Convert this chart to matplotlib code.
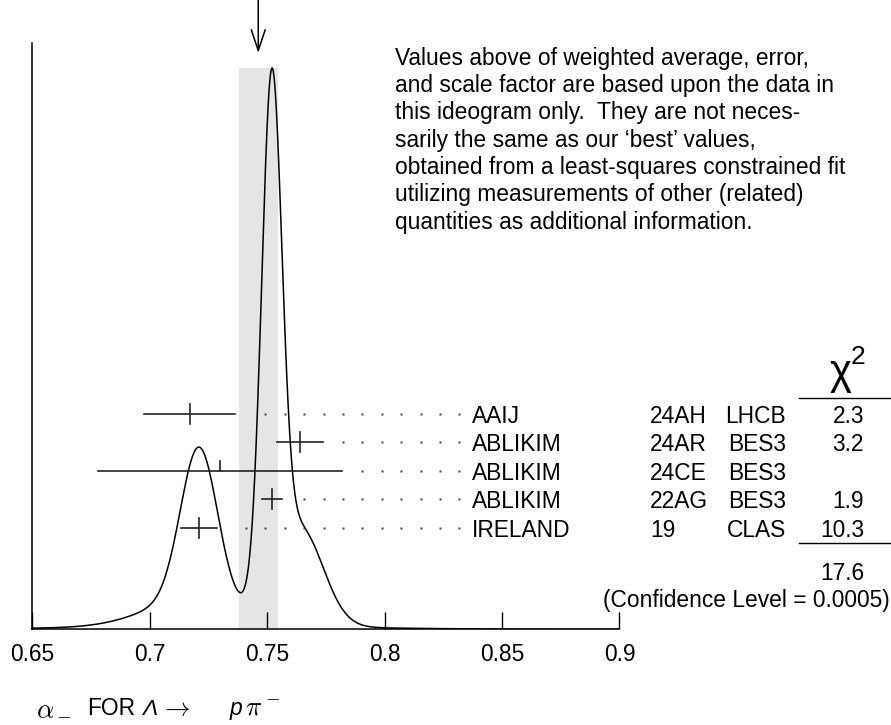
import numpy as np
import matplotlib.pyplot as plt
from matplotlib.lines import Line2D

plt.rcParams['font.family'] = ['Liberation Sans', 'DejaVu Sans']

# Meritve (ideogram)
names = ['AAIJ', 'ABLIKIM', 'ABLIKIM', 'ABLIKIM', 'IRELAND']
codes = ['24AH', '24AR', '24CE', '22AG', '19']
expts = ['LHCB', 'BES3', 'BES3', 'BES3', 'CLAS']
values = [0.717, 0.764, 0.730, 0.7519, 0.721]
errors = [0.0193, 0.0098, 0.052, 0.0043, 0.0078]
used = [True, True, False, True, True]
chi2 = ['2.3', '3.2', '', '1.9', '10.3']
chi2_total = '17.6'
conf_level = '0.0005'
wavg = 0.7462   # utezeno povprecje (puscica)
werr = 0.0084   # napaka s faktorjem skale (siv pas)

xticks = [0.65, 0.7, 0.75, 0.8, 0.85, 0.9]
xtick_labels = ['0.65', '0.7', '0.75', '0.8', '0.85', '0.9']

note = ["Values above of weighted average, error,",
        "and scale factor are based upon the data in",
        "this ideogram only.  They are not neces-",
        "sarily the same as our \u2018best\u2019 values,",
        "obtained from a least-squares constrained fit",
        "utilizing measurements of other (related)",
        "quantities as additional information."]

W, H = 891, 725
FS = 16.4
fig = plt.figure(figsize=(W / 100, H / 100), dpi=100)

def fx(px):
    return px / W

def fy(py):
    return 1 - py / H

ax_bot, ax_top = 629.3, 42.7
ax = fig.add_axes([fx(32.3), fy(ax_bot), fx(619.5) - fx(32.3), (ax_bot - ax_top) / H])
ax.set_xlim(0.65, 0.9)
ax.set_ylim(0, 1)

def ay(py):
    return (ax_bot - py) / (ax_bot - ax_top)

# ideogram: vsota gaussov, ploscina ~ 1/sigma
xs = np.linspace(0.65, 0.9, 2000)
ys = np.zeros_like(xs)
for v, e in zip(values, errors):
    ys += np.exp(-0.5 * ((xs - v) / e) ** 2) / e ** 2
peak = ay(68)
ys = ys / ys.max() * peak
ax.plot(xs, ys, color='k', lw=1.1, zorder=3)

ax.axvspan(wavg - werr, wavg + werr, ymin=0, ymax=peak, color='#e5e5e5', lw=0, zorder=0)

ax.annotate('', xy=(wavg, ay(53)), xytext=(wavg, ay(0)), annotation_clip=False,
            arrowprops=dict(arrowstyle='->,head_length=1.5,head_width=0.5', lw=1.1,
                            color='k', shrinkA=0, shrinkB=0, mutation_scale=10))

# vrstice meritev
row0, drow = 414.0, 28.4
dy = 10 / (ax_bot - ax_top)
dot_step = 19.4 / 2349
dot_end = 0.8318
gap = 15 / 2349
for i, (v, e) in enumerate(zip(values, errors)):
    y = ay(row0 + i * drow)
    ax.plot([v - e, v + e], [y, y], color='#222', lw=1.2, zorder=4, clip_on=False)
    if used[i]:
        ax.plot([v, v], [y - dy, y + dy], color='#222', lw=1.2, zorder=4)
    else:
        ax.plot([v, v], [y, y + dy], color='#222', lw=1.2, zorder=4)
    k = np.ceil((v + e + gap - dot_end) / dot_step)
    dots = np.arange(dot_end + k * dot_step, dot_end + 1e-6, dot_step)
    ax.plot(dots, np.full_like(dots, y), ls='none', marker='s', ms=1.6,
            mec='none', color='#444', zorder=4)

    base = row0 + i * drow + 9
    fig.text(fx(472), fy(base), names[i], fontsize=FS, va='baseline')
    fig.text(fx(650), fy(base), codes[i], fontsize=FS, va='baseline')
    fig.text(fx(786), fy(base), expts[i], fontsize=FS, va='baseline', ha='right')
    fig.text(fx(864), fy(base), chi2[i], fontsize=FS, va='baseline', ha='right')

# glava stolpca chi^2
fig.text(fx(851), fy(384), '\u03c7', fontsize=30, ha='right', va='baseline')
fig.text(fx(851), fy(364), '2', fontsize=19, ha='left', va='baseline')
fig.add_artist(Line2D([fx(799), fx(890)], [fy(397.7)] * 2, color='k', lw=1.0))
fig.add_artist(Line2D([fx(799), fx(890)], [fy(542.7)] * 2, color='k', lw=1.0))
fig.text(fx(864), fy(572.5 + 8), chi2_total, fontsize=FS, va='baseline', ha='right')
fig.text(fx(890), fy(598.5 + 8), f'(Confidence Level = {conf_level})', fontsize=FS,
         va='baseline', ha='right')

for j, line in enumerate(note):
    fig.text(fx(395), fy(56.7 + 27.3 * j + 8), line, fontsize=FS, va='baseline')

# osi
for s in ['top', 'right']:
    ax.spines[s].set_visible(False)
for s in ['left', 'bottom']:
    ax.spines[s].set_linewidth(1.1)
ax.set_xticks(xticks)
ax.set_xticklabels(xtick_labels, fontsize=FS)
ax.tick_params(axis='x', direction='in', length=12.2, width=1.0, pad=10)
ax.set_yticks([])

# x oznaka
bl = 715
fig.text(fx(36.5), fy(bl), r'$\alpha_-$', fontsize=FS + 3, va='baseline', math_fontfamily='cm')
fig.text(fx(87), fy(bl), 'FOR', fontsize=FS, va='baseline')
fig.text(fx(142), fy(bl), '\u039b', fontsize=FS, va='baseline', style='italic')
fig.text(fx(160), fy(bl), r'$\rightarrow$', fontsize=FS + 2, va='baseline', math_fontfamily='cm')
fig.text(fx(230), fy(bl), 'p', fontsize=FS, va='baseline', style='italic')
fig.text(fx(244.5), fy(bl), r'$\pi^-$', fontsize=FS + 3, va='baseline', math_fontfamily='cm')

fig.savefig('out.png', dpi=100)
